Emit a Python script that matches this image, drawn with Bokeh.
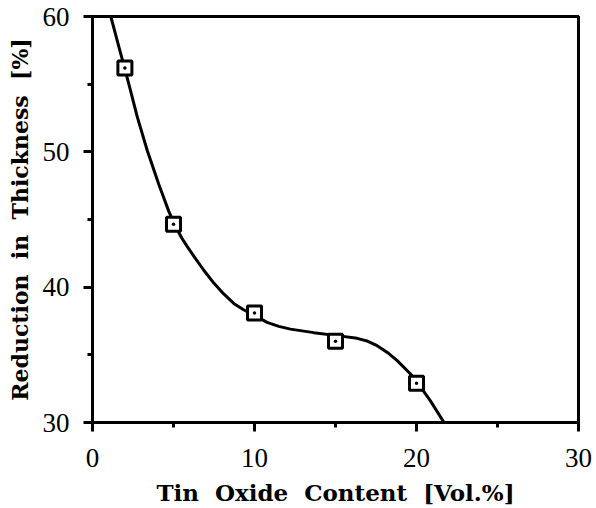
from bokeh.plotting import figure
from bokeh.models import Range1d, FixedTicker
from bokeh.embed import file_html
from bokeh.resources import INLINE

# measured data points
tin_oxide = [2, 5, 10, 15, 20]
reduction = [56.2, 44.65, 38.1, 36.0, 32.9]

# fitted curve
curve_x = [1.13, 1.62, 1.98, 2.3, 2.76, 3.38, 4.09, 4.71, 5.06, 5.5, 5.85, 6.25, 6.87, 7.49, 8.1,
           8.72, 9.3, 9.86, 10.78, 11.5, 12.22, 13.66, 15.1, 16.34, 17.0, 17.57, 18.2, 18.81,
           19.83, 20.86, 21.69]
curve_y = [60.0, 57.8, 56.2, 54.75, 52.6, 50.1, 47.6, 45.6, 44.65, 43.65, 43.0, 42.3, 41.25, 40.3, 39.5,
           38.8, 38.35, 38.0, 37.4, 37.1, 36.9, 36.64, 36.42, 36.22, 36.0, 35.68, 35.18, 34.57,
           33.34, 31.6, 30.02]

x_ticks = [0, 10, 20, 30]
x_minor = [5, 15, 25]
y_ticks = [30, 40, 50, 60]
y_minor = [35, 45, 55]

x_title = "Tin \u00a0Oxide \u00a0Content \u00a0[Vol.%]"
y_title = "Reduction \u00a0in \u00a0Thickness \u00a0[%]"

p = figure(width=596, height=508, output_backend="svg", toolbar_location=None,
           x_range=Range1d(0, 30), y_range=Range1d(30, 60),
           min_border_left=92, min_border_right=18, min_border_top=16, min_border_bottom=86)

p.xgrid.visible = False
p.ygrid.visible = False
p.background_fill_color = "white"
p.outline_line_color = "black"
p.outline_line_width = 3

p.xaxis.ticker = FixedTicker(ticks=x_ticks, minor_ticks=x_minor)
p.yaxis.ticker = FixedTicker(ticks=y_ticks, minor_ticks=y_minor)

for ax in (p.xaxis, p.yaxis):
    ax.axis_line_width = 3
    ax.axis_line_color = "black"
    ax.major_tick_line_width = 3
    ax.minor_tick_line_width = 3
    ax.major_tick_line_color = "black"
    ax.minor_tick_line_color = "black"
    ax.major_tick_out = 9
    ax.major_tick_in = 0
    ax.minor_tick_out = 5
    ax.minor_tick_in = 0
    ax.major_label_text_font = "Liberation Serif"
    ax.major_label_text_font_size = "27px"
    ax.major_label_text_color = "black"
    ax.axis_label_text_font = "DejaVu Serif"
    ax.axis_label_text_font_style = "bold"
    ax.axis_label_text_color = "black"

p.xaxis.axis_label_text_font_size = "23px"
p.yaxis.axis_label_text_font_size = "22px"
p.xaxis.major_label_standoff = 17
p.yaxis.major_label_standoff = 14
p.xaxis.axis_label = x_title
p.yaxis.axis_label = y_title
p.xaxis.axis_label_standoff = 9
p.yaxis.axis_label_standoff = 7

p.line(curve_x, curve_y, line_color="black", line_width=3, line_join="round")
p.scatter(tin_oxide, reduction, marker="square_dot", size=14, line_color="black",
          line_width=3, fill_color="white")

open("out.html", "w").write(file_html(p, INLINE))
